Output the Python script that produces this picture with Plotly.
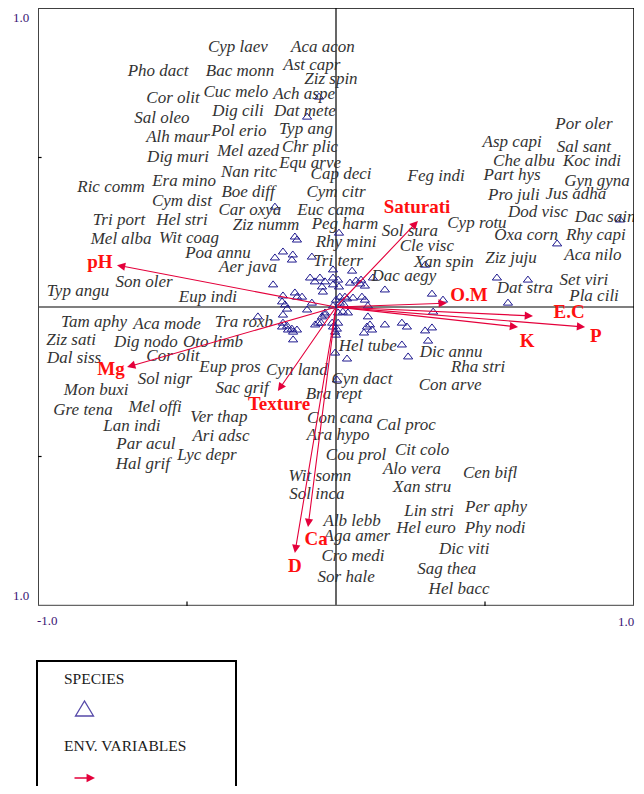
import plotly.graph_objects as go

# ---------------- data (axis units, range -1..1) ----------------
species_names = [
    "Cyp laev", "Aca acon", "Pho dact", "Bac monn", "Ast capr", "Ziz spin", "Cor olit", "Cuc melo",
    "Ach aspe", "Sal oleo", "Dig cili", "Dat mete", "Alh maur", "Pol erio", "Typ ang", "Dig muri",
    "Mel azed", "Chr plic", "Equ arve", "Nan ritc", "Cap deci", "Ric comm", "Era mino", "Boe diff",
    "Cym citr", "Cym dist", "Car oxya", "Euc cama", "Tri port", "Hel stri", "Ziz numm", "Peg harm",
    "Mel alba", "Wit coag", "Poa annu", "Rhy mini", "Aer java", "Tri terr", "Son oler", "Typ angu",
    "Eup indi", "Feg indi", "Part hys", "Che albu", "Koc indi", "Pro juli", "Jus adha", "Gyn gyna",
    "Dod visc", "Dac sain", "Cyp rotu", "Sol sura", "Oxa corn", "Rhy capi", "Cle visc", "Xan spin",
    "Ziz juju", "Aca nilo", "Dac aegy", "Dat stra", "Set viri", "Pla cili", "Por oler", "Asp capi",
    "Sal sant", "Tam aphy", "Aca mode", "Tra roxb", "Ziz sati", "Dig nodo", "Oto limb", "Dal siss",
    "Cor olit", "Eup pros", "Cyn land", "Sol nigr", "Sac grif", "Mon buxi", "Bra rept", "Gre tena",
    "Mel offi", "Ver thap", "Lan indi", "Con cana", "Ari adsc", "Ara hypo", "Par acul", "Lyc depr",
    "Hal grif", "Cou prol", "Hel tube", "Dic annu", "Rha stri", "Cyn dact", "Con arve", "Cal proc",
    "Cit colo", "Alo vera", "Cen bifl", "Wit somn", "Xan stru", "Sol inca", "Per aphy", "Lin stri",
    "Alb lebb", "Hel euro", "Phy nodi", "Aga amer", "Dic viti", "Cro medi", "Sag thea", "Sor hale",
    "Hel bacc",
]
species_x = [
    -0.329, -0.044, -0.597, -0.322, -0.081, -0.017, -0.547, -0.336,
    -0.107, -0.584, -0.329, -0.104, -0.530, -0.326, -0.101, -0.530,
    -0.295, -0.087, -0.087, -0.292, 0.017, -0.755, -0.510, -0.295,
    0.000, -0.517, -0.289, -0.017, -0.728, -0.517, -0.235, 0.030,
    -0.721, -0.493, -0.396, 0.034, -0.295, 0.007, -0.644, -0.866,
    -0.430, 0.336, 0.591, 0.631, 0.859, 0.597, 0.805, 0.876,
    0.678, 0.903, 0.473, 0.248, 0.638, 0.872, 0.305, 0.362,
    0.587, 0.862, 0.228, 0.634, 0.832, 0.866, 0.832, 0.591,
    0.832, -0.812, -0.567, -0.309, -0.889, -0.638, -0.413, -0.879,
    -0.547, -0.356, -0.131, -0.574, -0.315, -0.805, -0.007, -0.849,
    -0.607, -0.393, -0.685, 0.013, -0.386, 0.007, -0.638, -0.433,
    -0.648, 0.067, 0.107, 0.386, 0.477, 0.087, 0.383, 0.235,
    0.289, 0.255, 0.517, -0.054, 0.289, -0.064, 0.537, 0.312,
    0.054, 0.302, 0.534, 0.070, 0.430, 0.057, 0.372, 0.034,
    0.413,
]
species_y = [
    0.866, 0.866, 0.786, 0.786, 0.806, 0.759, 0.696, 0.716,
    0.709, 0.629, 0.652, 0.652, 0.565, 0.585, 0.592, 0.498,
    0.518, 0.532, 0.478, 0.448, 0.441, 0.398, 0.418, 0.381,
    0.381, 0.351, 0.321, 0.321, 0.288, 0.288, 0.271, 0.274,
    0.224, 0.227, 0.177, 0.214, 0.130, 0.151, 0.080, 0.050,
    0.030, 0.435, 0.438, 0.485, 0.485, 0.371, 0.375, 0.418,
    0.314, 0.298, 0.278, 0.251, 0.237, 0.237, 0.201, 0.147,
    0.161, 0.171, 0.100, 0.060, 0.087, 0.033, 0.609, 0.548,
    0.532, -0.054, -0.060, -0.054, -0.114, -0.120, -0.120, -0.174,
    -0.167, -0.204, -0.214, -0.244, -0.274, -0.281, -0.294, -0.348,
    -0.338, -0.371, -0.401, -0.375, -0.435, -0.431, -0.462, -0.498,
    -0.528, -0.498, -0.134, -0.154, -0.204, -0.244, -0.264, -0.398,
    -0.482, -0.545, -0.559, -0.569, -0.605, -0.629, -0.672, -0.686,
    -0.719, -0.742, -0.742, -0.769, -0.813, -0.836, -0.880, -0.906,
    -0.946,
]

# species points (triangles) visible in the plot
point_x = [
    -0.057, -0.097, -0.205, -0.138, -0.131, 0.010, -0.178, -0.145, -0.148, -0.205, -0.081,
    -0.010, 0.054, -0.087, -0.071, -0.054, -0.037, -0.047, -0.044, -0.010, -0.010, 0.007,
    0.047, 0.067, 0.081, 0.097, 0.084, 0.010, 0.013, 0.030, 0.057, 0.087, 0.097, 0.037,
    -0.211, -0.178, -0.138, -0.131, -0.114, -0.181, -0.171, -0.081,
    0.124, 0.164, 0.322, 0.359, 0.540, 0.644, 0.577, 0.953, 0.742, 0.299,
    0.107, -0.097, -0.037, -0.047, 0.007, 0.023, 0.040,
    -0.262, -0.178, -0.164, -0.178, -0.164, -0.181, -0.148, -0.144, -0.131, -0.144, -0.161,
    -0.060, -0.050, -0.037, -0.013, -0.010, -0.003, 0.007, 0.003, -0.070,
    0.107, 0.104, 0.094, 0.121, 0.114,
    0.164, 0.221, 0.238, 0.299, 0.322, 0.326, 0.309, 0.221, 0.242, 0.037, -0.003, 0.003, 0.000,
    0.000, 0.013, 0.027, -0.010,
]
point_y = [
    0.702, 0.635, 0.334, 0.234, 0.224, 0.247, 0.184, 0.174, 0.157, 0.164, 0.167,
    0.124, 0.120, 0.097, 0.084, 0.097, 0.084, 0.067, 0.050, 0.097, 0.074, 0.090,
    0.080, 0.087, 0.077, 0.070, 0.090, 0.067, 0.033, 0.033, 0.030, 0.033, 0.023, 0.027,
    0.074, 0.037, 0.047, 0.033, 0.033, 0.017, 0.007, 0.013,
    0.097, 0.057, 0.043, 0.023, 0.097, 0.090, 0.013, 0.291, 0.211, 0.140,
    0.003, -0.010, -0.020, -0.033, -0.020, -0.017, -0.020,
    -0.033, -0.027, -0.007, -0.054, -0.064, -0.067, -0.074, -0.084, -0.077, -0.110, -0.077,
    -0.054, -0.054, -0.027, -0.054, -0.067, -0.084, -0.054, -0.074, -0.060,
    -0.033, -0.067, -0.087, -0.077, -0.060,
    -0.060, -0.054, -0.067, -0.080, -0.070, -0.017, -0.114, -0.127, -0.167, -0.174, -0.154, -0.244, -0.094,
    0.023, 0.013, 0.007, 0.003,
]

# environmental variables (arrow tips) and their label positions
env_names = ["pH", "Saturati", "O.M", "E.C", "K", "P", "Mg", "Texture", "Ca", "D"]
env_x = [-0.735, 0.275, 0.372, 0.661, 0.611, 0.836, -0.701, -0.195, -0.094, -0.138]
env_y = [0.140, 0.288, 0.013, -0.030, -0.067, -0.067, -0.201, -0.281, -0.736, -0.823]
env_label_x = [-0.792, 0.272, 0.446, 0.782, 0.641, 0.872, -0.755, -0.191, -0.067, -0.138]
env_label_y = [0.147, 0.331, 0.037, -0.020, -0.117, -0.100, -0.211, -0.328, -0.779, -0.870]

x_tick_labels = ["-1.0", "1.0"]
y_tick_labels = ["1.0", "1.0"]
legend_items = ["SPECIES", "ENV. VARIABLES"]

# ---------------- figure ----------------
# The page body has an 8px margin; the figure is sized so the page is 644x794.
BODY = 8
W, H = 644 - 2 * BODY, 794 - 2 * BODY
PLOT_LEFT, PLOT_RIGHT, PLOT_TOP, PLOT_BOTTOM = 38, 634, 8, 606  # page pixels
PW, PH = PLOT_RIGHT - PLOT_LEFT, PLOT_BOTTOM - PLOT_TOP
L = PLOT_LEFT - BODY
T = PLOT_TOP - BODY
R = W - L - PW
B = H - T - PH


def pxx(x):
    return (x - PLOT_LEFT) / PW


def pyy(y):
    return (PLOT_BOTTOM - y) / PH


SERIF = "Liberation Serif, Times New Roman, serif"
RED_ARROW = "#e4003b"
RED_TEXT = "#ff1010"
NAVY = "#1f1a8f"

fig = go.Figure()

fig.add_trace(go.Scatter(
    x=point_x, y=point_y, mode="markers",
    marker=dict(symbol="triangle-up-open", size=8, color=NAVY, line=dict(width=1, color=NAVY)),
    hoverinfo="skip", showlegend=False,
))

fig.add_trace(go.Scatter(
    x=species_x, y=species_y, mode="text", text=species_names,
    textposition="middle center",
    textfont=dict(family=SERIF, size=17, color="#333333", style="italic"),
    hoverinfo="skip", showlegend=False,
))

fig.add_trace(go.Scatter(
    x=env_label_x, y=env_label_y, mode="text", text=env_names,
    textposition="middle center",
    textfont=dict(family=SERIF, size=19, color=RED_TEXT, weight="bold"),
    hoverinfo="skip", showlegend=False,
))

annotations = []
for ex, ey in zip(env_x, env_y):
    annotations.append(dict(
        x=ex, y=ey, ax=0, ay=0, xref="x", yref="y", axref="x", ayref="y",
        text="", showarrow=True, arrowhead=2, arrowsize=1.5, arrowwidth=1.1,
        arrowcolor=RED_ARROW, standoff=0, startstandoff=0,
    ))

tick_font = dict(family=SERIF, size=13, color="#3a1473")
annotations += [
    dict(x=pxx(21), y=pyy(18), xref="paper", yref="paper", text=y_tick_labels[0],
         showarrow=False, font=tick_font, xanchor="center", yanchor="middle"),
    dict(x=pxx(21), y=pyy(595), xref="paper", yref="paper", text=y_tick_labels[1],
         showarrow=False, font=tick_font, xanchor="center", yanchor="middle"),
    dict(x=pxx(47), y=pyy(620), xref="paper", yref="paper", text=x_tick_labels[0],
         showarrow=False, font=tick_font, xanchor="center", yanchor="middle"),
    dict(x=pxx(626), y=pyy(621), xref="paper", yref="paper", text=x_tick_labels[1],
         showarrow=False, font=tick_font, xanchor="center", yanchor="middle"),
]

leg_font = dict(family=SERIF, size=15.5, color="#1a1a1a")
annotations += [
    dict(x=pxx(62), y=pyy(678), xref="paper", yref="paper", text=legend_items[0],
         showarrow=False, font=leg_font, xanchor="left", yanchor="middle"),
    dict(x=pxx(62), y=pyy(745), xref="paper", yref="paper", text=legend_items[1],
         showarrow=False, font=leg_font, xanchor="left", yanchor="middle"),
    dict(x=pxx(95), y=pyy(778), xref="paper", yref="paper", ax=-22, ay=0,
         text="", showarrow=True, arrowhead=2, arrowsize=1.3, arrowwidth=1.3,
         arrowcolor=RED_ARROW, standoff=0),
]

shapes = [
    # centre axes
    dict(type="line", xref="x", yref="y", x0=0, x1=0, y0=-1, y1=1,
         line=dict(color="black", width=1.2), layer="below"),
    dict(type="line", xref="x", yref="y", x0=-1, x1=1, y0=0, y1=0,
         line=dict(color="black", width=1.2), layer="below"),
    # frame
    dict(type="line", xref="x", yref="y", x0=-1, x1=1, y0=1, y1=1,
         line=dict(color="black", width=1.5)),
    dict(type="line", xref="x", yref="y", x0=1, x1=1, y0=-1, y1=1,
         line=dict(color="black", width=1.5)),
    dict(type="line", xref="x", yref="y", x0=-1, x1=-1, y0=-1, y1=1,
         line=dict(color="#444444", width=2)),
    dict(type="line", xref="x", yref="y", x0=-1, x1=1, y0=-1, y1=-1,
         line=dict(color="#666666", width=2.5)),
    # ticks
    dict(type="line", xref="x", yref="y", x0=-1.012, x1=-0.988, y0=0.5, y1=0.5,
         line=dict(color="black", width=1.2)),
    dict(type="line", xref="x", yref="y", x0=-1.012, x1=-0.988, y0=-0.5, y1=-0.5,
         line=dict(color="black", width=1.2)),
    dict(type="line", xref="x", yref="y", x0=-0.5, x1=-0.5, y0=-1.0, y1=-0.985,
         line=dict(color="black", width=1.2)),
    dict(type="line", xref="x", yref="y", x0=0.5, x1=0.5, y0=-1.0, y1=-0.985,
         line=dict(color="black", width=1.2)),
    # legend box
    dict(type="rect", xref="paper", yref="paper", x0=pxx(37), x1=pxx(236),
         y0=pyy(661), y1=pyy(805), line=dict(color="black", width=2), fillcolor="rgba(0,0,0,0)"),
    # legend triangle
    dict(type="path", xref="paper", yref="paper",
         path="M {:.5f} {:.5f} L {:.5f} {:.5f} L {:.5f} {:.5f} Z".format(
             pxx(75.5), pyy(716), pxx(93.5), pyy(716), pxx(84.5), pyy(701)),
         line=dict(color="#5548a8", width=1.3), fillcolor="rgba(0,0,0,0)"),
]

fig.update_layout(
    width=W, height=H,
    margin=dict(l=L, r=R, t=T, b=B),
    paper_bgcolor="white", plot_bgcolor="white",
    xaxis=dict(range=[-1, 1], showgrid=False, zeroline=False, showticklabels=False,
               ticks="", showline=False, fixedrange=True),
    yaxis=dict(range=[-1, 1], showgrid=False, zeroline=False, showticklabels=False,
               ticks="", showline=False, fixedrange=True),
    annotations=annotations,
    shapes=shapes,
    showlegend=False,
)

fig.write_html("out.html")
